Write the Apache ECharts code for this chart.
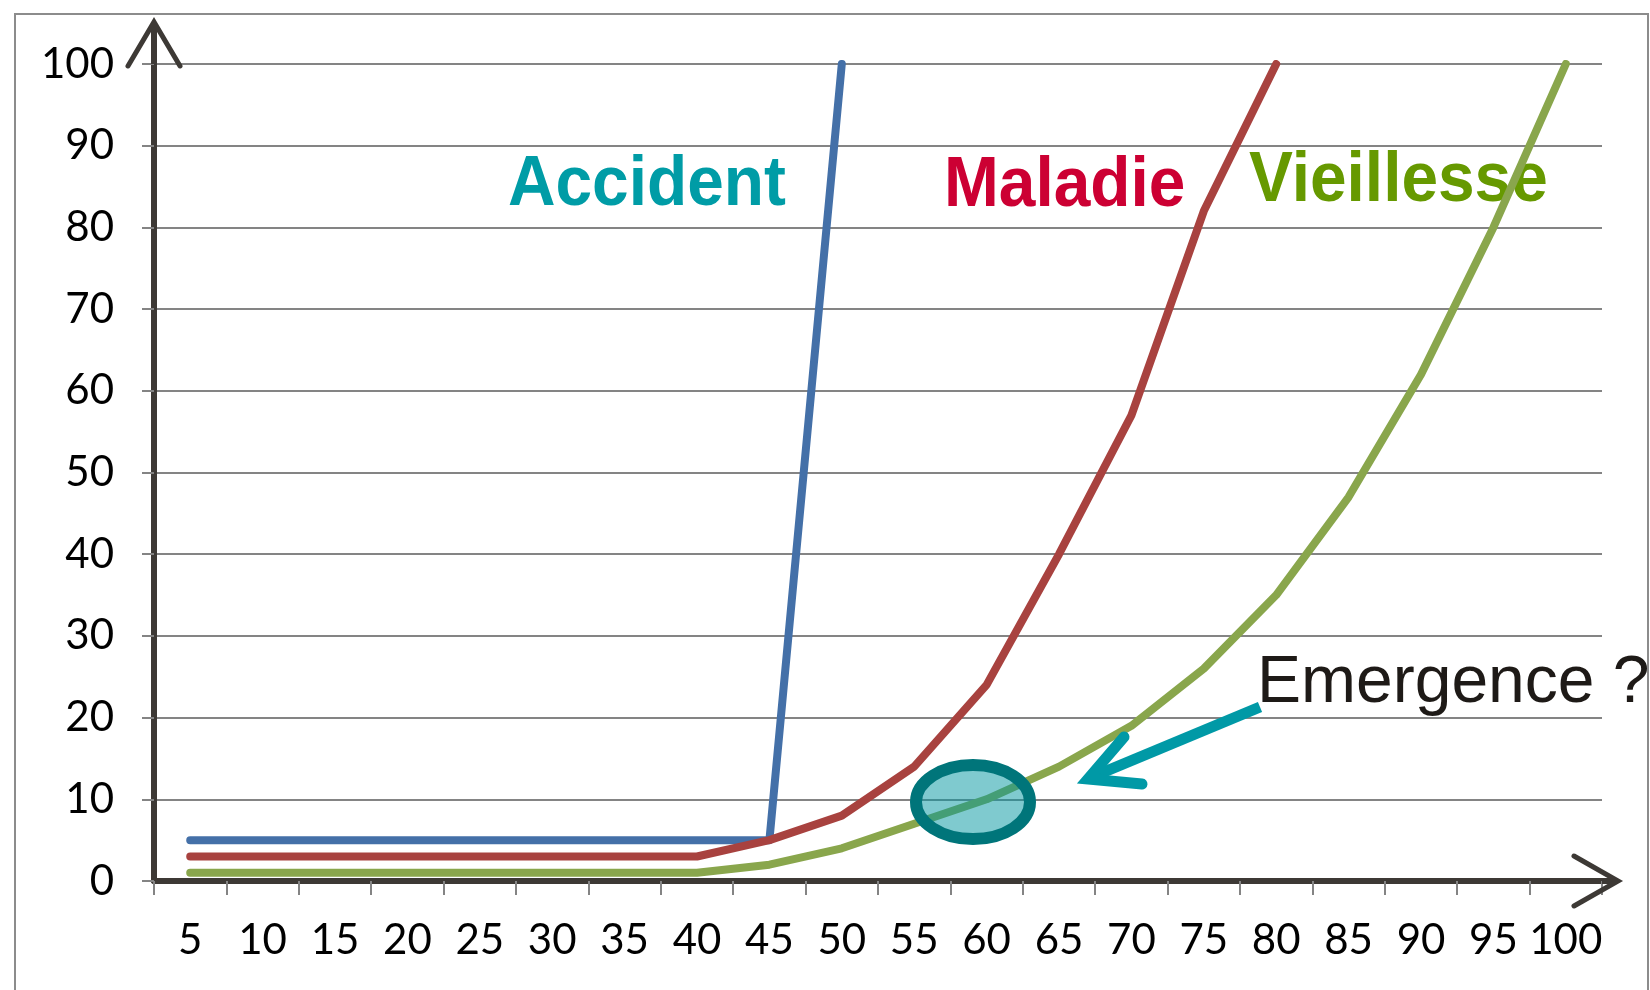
<!DOCTYPE html>
<html>
<head>
<meta charset="utf-8">
<script src="https://cdn.jsdelivr.net/npm/echarts@6/dist/echarts.min.js"></script>
<style>
  html, body { margin: 0; padding: 0; background: #fff; }
  #chart { width: 1650px; height: 990px; }
</style>
</head>
<body>
<div id="chart"></div>
<script>
// ages on the x axis
const categories = ['5', '10', '15', '20', '25', '30', '35', '40', '45', '50',
                    '55', '60', '65', '70', '75', '80', '85', '90', '95', '100'];
// series values
const accident   = [5, 5, 5, 5, 5, 5, 5, 5, 5, 100, null, null, null, null, null, null, null, null, null, null];
const maladie    = [3, 3, 3, 3, 3, 3, 3, 3, 5, 8, 14, 24, 40, 57, 82, 100, null, null, null, null];
const vieillesse = [1, 1, 1, 1, 1, 1, 1, 1, 2, 4, 7, 10, 14, 19, 26, 35, 47, 62, 80, 100];
const yMin = 0, yMax = 100, yStep = 10;

const axisDark = '#3d3935';
const gridGray = '#848484';

// grid box in pixels
const gl = 154, gt = 64, gr = 48, gb = 109;
const W = 1650, H = 990;
const gx1 = W - gr, gy1 = H - gb;

const chart = echarts.init(document.getElementById('chart'));

function mkLine(name, data, color) {
  return {
    name: name,
    type: 'line',
    data: data,
    symbol: 'none',
    connectNulls: false,
    lineStyle: { color: color, width: 8, cap: 'round', join: 'round' },
    z: 3
  };
}

const option = {
  animation: false,
  backgroundColor: '#fff',
  grid: { left: gl, top: gt, right: gr, bottom: gb, containLabel: false },
  xAxis: {
    type: 'category',
    data: categories,
    boundaryGap: true,
    axisLine: { show: true, lineStyle: { color: axisDark, width: 6 } },
    axisTick: { show: true, length: 14, lineStyle: { color: gridGray, width: 2 } },
    axisLabel: { color: '#000', fontFamily: 'Lato', fontSize: 42, margin: 38, interval: 0 },
    splitLine: { show: false }
  },
  yAxis: {
    type: 'value',
    min: yMin, max: yMax, interval: yStep,
    axisLine: { show: true, lineStyle: { color: axisDark, width: 6 } },
    axisTick: { show: true, length: 12, lineStyle: { color: gridGray, width: 2 } },
    axisLabel: { color: '#000', fontFamily: 'Lato', fontSize: 42, margin: 40 },
    splitLine: { show: true, lineStyle: { color: gridGray, width: 2 } }
  },
  series: [
    mkLine('Accident', accident, '#4470a8'),
    mkLine('Maladie', maladie, '#a8423f'),
    mkLine('Vieillesse', vieillesse, '#89a64c')
  ],
  graphic: [
    // outer frame
    { type: 'rect', z: 0, silent: true,
      shape: { x: 15, y: 14, width: 1633, height: 1000 },
      style: { fill: 'none', stroke: '#8c8c8c', lineWidth: 2 } },
    // axis arrows
    { type: 'polyline', z: 20, shape: { points: [[gl, gt], [gl, 22]] },
      style: { stroke: axisDark, lineWidth: 6, fill: 'none' } },
    { type: 'polyline', z: 20, shape: { points: [[128, 66], [gl, 22], [180, 66]] },
      style: { stroke: axisDark, lineWidth: 5, fill: 'none', lineCap: 'round', lineJoin: 'miter' } },
    { type: 'polyline', z: 20, shape: { points: [[gx1, gy1], [1618, gy1]] },
      style: { stroke: axisDark, lineWidth: 6, fill: 'none' } },
    { type: 'polyline', z: 20, shape: { points: [[1574, 856], [1618, gy1], [1574, 906]] },
      style: { stroke: axisDark, lineWidth: 5, fill: 'none', lineCap: 'round', lineJoin: 'miter' } },
    // series titles
    { type: 'text', z: 1, x: 508, y: 186, scaleX: 0.94,
      style: { text: 'Accident', font: 'bold 70px "Liberation Sans", Arial', fill: '#009ca6',
               textAlign: 'left', textVerticalAlign: 'middle' } },
    { type: 'text', z: 1, x: 944, y: 187, scaleX: 0.94,
      style: { text: 'Maladie', font: 'bold 70px "Liberation Sans", Arial', fill: '#cc0033',
               textAlign: 'left', textVerticalAlign: 'middle' } },
    { type: 'text', z: 1, x: 1249, y: 182, scaleX: 0.94,
      style: { text: 'Vieillesse', font: 'bold 70px "Liberation Sans", Arial', fill: '#669900',
               textAlign: 'left', textVerticalAlign: 'middle' } },
    { type: 'text', z: 30, x: 1257, y: 684,
      style: { text: 'Emergence ?', font: '66px "Liberation Sans", Arial', fill: '#1e1a17',
               textAlign: 'left', textVerticalAlign: 'middle' } },
    // emergence arrow
    { type: 'polyline', z: 30, shape: { points: [[1260, 707], [1092, 777]] },
      style: { stroke: '#0099a6', lineWidth: 11, fill: 'none', lineCap: 'butt' } },
    { type: 'polyline', z: 30, shape: { points: [[1124, 737], [1088, 779], [1142, 784]] },
      style: { stroke: '#0099a6', lineWidth: 11, fill: 'none', lineCap: 'round', lineJoin: 'miter' } },
    // circled zone
    { type: 'ellipse', z: 30, shape: { cx: 973, cy: 802, rx: 57, ry: 37 },
      style: { fill: 'rgba(0,150,160,0.5)', stroke: '#00757a', lineWidth: 12 } }
  ]
};

chart.setOption(option);
</script>
</body>
</html>
